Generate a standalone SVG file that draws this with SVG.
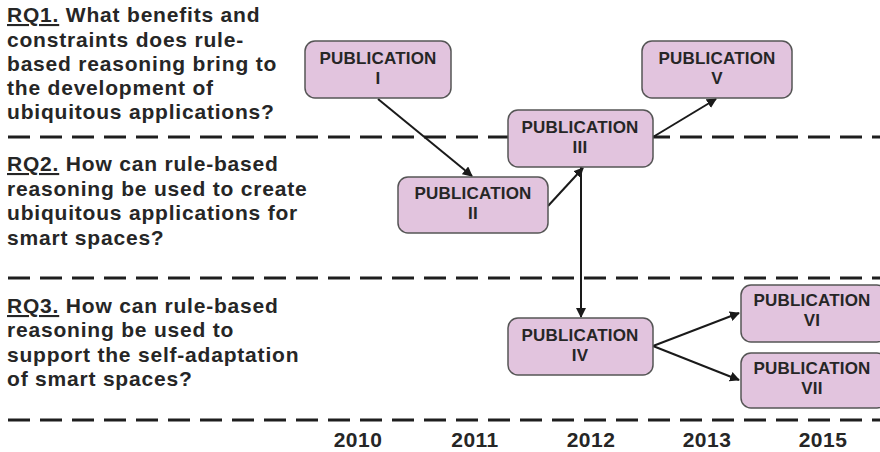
<svg xmlns="http://www.w3.org/2000/svg" width="880" height="452" viewBox="0 0 880 452">
  <defs>
    <marker id="arrow" viewBox="0 0 10 10" refX="9" refY="5" markerWidth="5" markerHeight="5" orient="auto-start-reverse" markerUnits="strokeWidth">
      <path d="M0,0 L10,5 L0,10 Z" fill="#1a1a1a"/>
    </marker>
    <style>
      .q { font-family: "Liberation Sans", Arial, sans-serif; font-weight: bold; font-size: 21px; letter-spacing: 0.8px; fill: #262626; }
      .u { text-decoration: underline; }
      .box { fill: #e2c4de; stroke: #555; stroke-width: 1.5; }
      .lbl { font-family: "Liberation Sans", Arial, sans-serif; font-weight: bold; font-size: 17px; letter-spacing: 0.2px; fill: #262626; text-anchor: middle; }
      .sep { stroke: #1e1e1e; stroke-width: 3; stroke-dasharray: 22 10; fill: none; }
      .edge { stroke: #1a1a1a; stroke-width: 2; fill: none; marker-end: url(#arrow); }
      .yr { font-family: "Liberation Sans", Arial, sans-serif; font-weight: bold; font-size: 21px; letter-spacing: 0.5px; fill: #262626; text-anchor: middle; }
    </style>
  </defs>

  <!-- band separators -->
  <g id="separators">
    <line class="sep" x1="8" y1="137" x2="880" y2="137"/>
    <line class="sep" x1="8" y1="278" x2="880" y2="278"/>
    <line class="sep" x1="8" y1="420" x2="880" y2="420"/>
  </g>

  <!-- research questions -->
  <g id="rq1">
    <text class="q" x="7" y="22"><tspan class="u">RQ1.</tspan> What benefits and</text>
    <text class="q" x="7" y="47">constraints does rule-</text>
    <text class="q" x="7" y="71">based reasoning bring to</text>
    <text class="q" x="7" y="95">the development of</text>
    <text class="q" x="7" y="119">ubiquitous applications?</text>
  </g>
  <g id="rq2">
    <text class="q" x="7" y="171"><tspan class="u">RQ2.</tspan> How can rule-based</text>
    <text class="q" x="7" y="196">reasoning be used to create</text>
    <text class="q" x="7" y="220">ubiquitous applications for</text>
    <text class="q" x="7" y="245">smart spaces?</text>
  </g>
  <g id="rq3">
    <text class="q" x="7" y="313"><tspan class="u">RQ3.</tspan> How can rule-based</text>
    <text class="q" x="7" y="337">reasoning be used to</text>
    <text class="q" x="7" y="362">support the self-adaptation</text>
    <text class="q" x="7" y="386">of smart spaces?</text>
  </g>

  <!-- connectors -->
  <g id="connectors">
    <line class="edge" x1="378" y1="99" x2="472" y2="176"/>
    <line class="edge" x1="548" y1="206" x2="583" y2="168"/>
    <line class="edge" x1="581" y1="167" x2="581" y2="317"/>
    <line class="edge" x1="653" y1="137" x2="716" y2="99"/>
    <line class="edge" x1="653" y1="346" x2="739" y2="313"/>
    <line class="edge" x1="653" y1="346" x2="739" y2="380"/>
  </g>

  <!-- publications -->
  <g id="pub1">
    <rect class="box" x="305" y="41" width="146" height="57" rx="10"/>
    <text class="lbl" x="378" y="64">PUBLICATION</text>
    <text class="lbl" x="378" y="84">I</text>
  </g>
  <g id="pub2">
    <rect class="box" x="398" y="177" width="150" height="56" rx="10"/>
    <text class="lbl" x="473" y="199">PUBLICATION</text>
    <text class="lbl" x="473" y="219">II</text>
  </g>
  <g id="pub3">
    <rect class="box" x="508" y="110" width="145" height="57" rx="10"/>
    <text class="lbl" x="580" y="133">PUBLICATION</text>
    <text class="lbl" x="580" y="153">III</text>
  </g>
  <g id="pub4">
    <rect class="box" x="508" y="318" width="145" height="57" rx="10"/>
    <text class="lbl" x="580" y="341">PUBLICATION</text>
    <text class="lbl" x="580" y="361">IV</text>
  </g>
  <g id="pub5">
    <rect class="box" x="642" y="41" width="150" height="57" rx="10"/>
    <text class="lbl" x="717" y="64">PUBLICATION</text>
    <text class="lbl" x="717" y="84">V</text>
  </g>
  <g id="pub6">
    <rect class="box" x="741" y="285" width="146" height="57" rx="10"/>
    <text class="lbl" x="812" y="306">PUBLICATION</text>
    <text class="lbl" x="812" y="326">VI</text>
  </g>
  <g id="pub7">
    <rect class="box" x="741" y="353" width="146" height="55" rx="10"/>
    <text class="lbl" x="812" y="374">PUBLICATION</text>
    <text class="lbl" x="812" y="394">VII</text>
  </g>

  <!-- timeline -->
  <g id="years">
    <text class="yr" x="358" y="447">2010</text>
    <text class="yr" x="475" y="447">2011</text>
    <text class="yr" x="591" y="447">2012</text>
    <text class="yr" x="707" y="447">2013</text>
    <text class="yr" x="823" y="447">2015</text>
  </g>
</svg>
